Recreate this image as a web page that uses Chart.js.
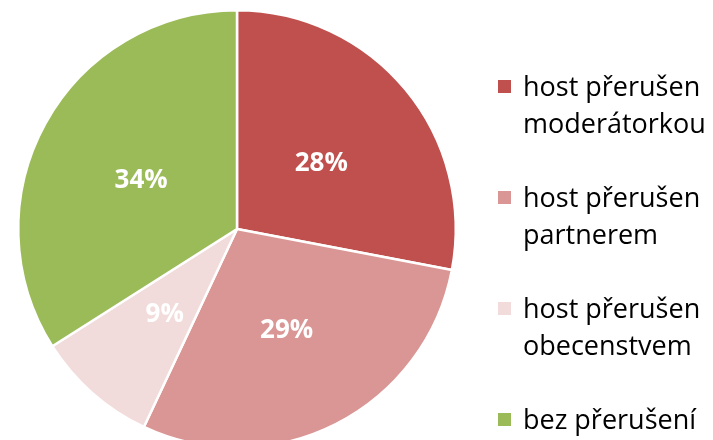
<!DOCTYPE html>
<html>
<head>
<meta charset="utf-8">
<script src="https://cdn.jsdelivr.net/npm/chart.js@4/dist/chart.umd.min.js"></script>
<style>
html,body{margin:0;padding:0;background:#fff;overflow:hidden;width:713px;height:440px;}
#wrap{position:absolute;left:0;top:0;width:713px;height:449px;}
</style>
</head>
<body>
<div id="wrap"><canvas id="c"></canvas></div>
<script>
const categories = ['host přerušen moderátorkou', 'host přerušen partnerem', 'host přerušen obecenstvem', 'bez přerušení'];
const values = [28, 29, 9, 34];
const colors = ['#C0504D', '#D99694', '#F2DCDB', '#9BBB59'];

const FONT = '"Open Sans", sans-serif';

const labelPlugin = {
  id: 'sliceLabels',
  afterDatasetsDraw(chart) {
    const ctx = chart.ctx;
    const meta = chart.getDatasetMeta(0);
    const data = chart.data.datasets[0].data;
    const total = data.reduce((a, b) => a + b, 0);
    ctx.save();
    ctx.fillStyle = '#fff';
    ctx.font = 'bold 26px ' + FONT;
    ctx.textAlign = 'center';
    ctx.textBaseline = 'middle';
    meta.data.forEach((arc, i) => {
      const p = arc.tooltipPosition();
      ctx.fillText(Math.round(data[i] / total * 100) + '%', p.x, p.y + 4);
    });
    ctx.restore();
  }
};

function wrapText(ctx, text, maxW) {
  const words = text.split(' ');
  const lines = [];
  let cur = '';
  words.forEach(w => {
    const t = cur ? cur + ' ' + w : w;
    if (ctx.measureText(t).width > maxW && cur) { lines.push(cur); cur = w; }
    else cur = t;
  });
  if (cur) lines.push(cur);
  return lines;
}

const legendPlugin = {
  id: 'sideLegend',
  afterDraw(chart) {
    const ctx = chart.ctx;
    const labels = chart.data.labels;
    const bg = chart.data.datasets[0].backgroundColor;
    ctx.save();
    ctx.font = '27px ' + FONT;
    ctx.textAlign = 'left';
    ctx.textBaseline = 'alphabetic';
    let y = 96;
    labels.forEach((lab, i) => {
      const lines = wrapText(ctx, lab, 200);
      ctx.fillStyle = bg[i];
      ctx.fillRect(498, y - 16, 13, 13);
      ctx.fillStyle = '#000';
      lines.forEach((ln, j) => ctx.fillText(ln, 523, y + j * 37));
      y += 111;
    });
    ctx.restore();
  }
};

new Chart(document.getElementById('c'), {
  type: 'pie',
  data: {
    labels: categories,
    datasets: [{
      data: values,
      backgroundColor: colors,
      borderColor: '#fff',
      borderWidth: 2.5
    }]
  },
  options: {
    responsive: true,
    maintainAspectRatio: false,
    animation: false,
    layout: { padding: { left: 17, right: 256, top: 9, bottom: 0 } },
    plugins: { legend: { display: false }, tooltip: { enabled: false } }
  },
  plugins: [labelPlugin, legendPlugin]
});
</script>
</body>
</html>
